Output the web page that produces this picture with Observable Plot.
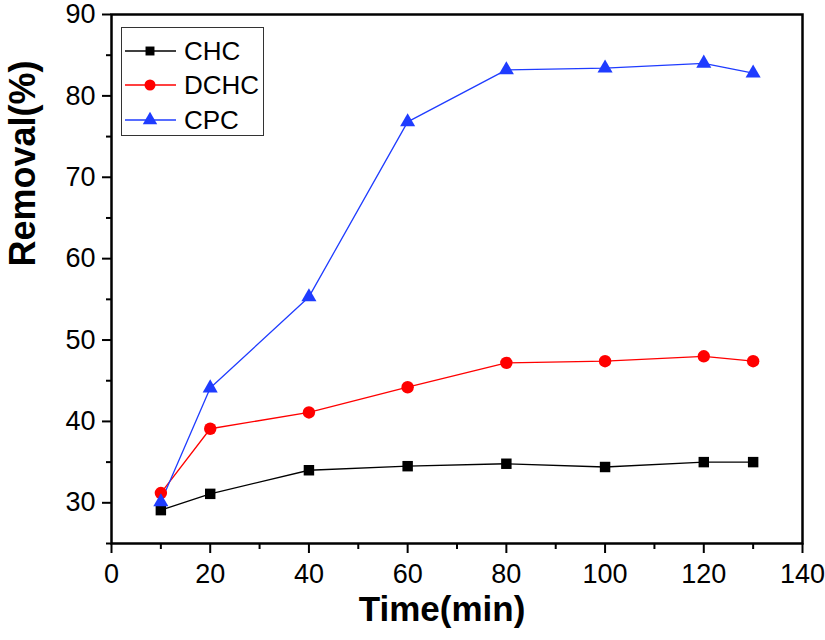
<!DOCTYPE html>
<html>
<head>
<meta charset="utf-8">
<script src="https://cdn.jsdelivr.net/npm/d3@7"></script>
<script src="https://cdn.jsdelivr.net/npm/@observablehq/plot@0.6"></script>
<style>
  html, body { margin: 0; padding: 0; background: #fff; }
  #wrap { position: relative; width: 825px; height: 640px; font-family: "Liberation Sans", Arial, sans-serif; }
  #wrap svg g[aria-label="x-axis tick label"], #wrap svg g[aria-label="y-axis tick label"] { font-size: 27px !important; }
  #legend { position: absolute; left: 121px; top: 27px; width: 141px; height: 107px; border: 1.5px solid #333; background: #fff; }
  .row { position: absolute; left: 0; height: 30px; display: flex; align-items: center; }
  .row span { font-size: 26px; color: #000; margin-left: 4px; }
</style>
</head>
<body>
<div id="wrap"></div>
<script>
// ---- data ----
const time = [10, 20, 40, 60, 80, 100, 120, 130];
const seriesNames = ["CHC", "DCHC", "CPC"];
const chc  = [29.1, 31.1, 34.0, 34.5, 34.8, 34.4, 35.0, 35.0];
const dchc = [31.2, 39.1, 41.1, 44.2, 47.2, 47.4, 48.0, 47.4];
const cpc  = [30.1, 44.1, 55.3, 76.8, 83.2, 83.4, 84.0, 82.8];
const xMajor = [0, 20, 40, 60, 80, 100, 120, 140];
const xMinor = [10, 30, 50, 70, 90, 110, 130];
const yMajor = [30, 40, 50, 60, 70, 80, 90];
const yMinor = [25, 35, 45, 55, 65, 75, 85];
const xTitle = "Time(min)";
const yTitle = "Removal(%)";

// ---- styles ----
const colors = ["#000000", "#ff0000", "#1f3cff"];
const symbols = ["square", "circle", "triangle"];
const radii = [5.9, 6.2, 5.6];

const valuesBySeries = [chc, dchc, cpc];
const rows = seriesNames.flatMap((s, i) => time.map((t, j) => ({series: s, time: t, value: valuesBySeries[i][j]})));

const font = "'Liberation Sans', Arial, sans-serif";

const marks = [
  Plot.axisX(xMinor, {tickSize: 6, tickFormat: () => "", strokeWidth: 2, label: null}),
  Plot.axisX(xMajor, {tickSize: 10, tickPadding: 10, fontSize: 27, strokeWidth: 2, label: null}),
  Plot.axisY(yMinor, {tickSize: 5, tickFormat: () => "", strokeWidth: 2, label: null}),
  Plot.axisY(yMajor, {tickSize: 9, tickPadding: 7, fontSize: 27, strokeWidth: 2, label: null}),
  Plot.line(rows, {x: "time", y: "value", z: "series", stroke: "series", strokeWidth: 1.3})
];
seriesNames.forEach((s, i) => {
  marks.push(Plot.dot(rows.filter(d => d.series === s), {
    x: "time", y: "value", symbol: () => symbols[i], fill: colors[i], stroke: "none", r: radii[i]
  }));
});
marks.push(
  Plot.frame({stroke: "#000", strokeWidth: 2.5}),
  Plot.text([xTitle], {frameAnchor: "bottom", text: d => d, dx: -15, dy: 77, fontSize: 35, fontWeight: "bold"}),
  Plot.text([yTitle], {frameAnchor: "left", text: d => d, rotate: -90, dx: -88.5, dy: -12.5, fontSize: 36, fontWeight: "bold"})
);

const chart = Plot.plot({
  width: 825,
  height: 640,
  marginLeft: 111,
  marginRight: 23,
  marginTop: 14,
  marginBottom: 97,
  style: {fontFamily: font, fontSize: "27px", color: "#000", background: "#fff", overflow: "visible"},
  x: {domain: [0, 140], label: null},
  y: {domain: [25, 90], label: null},
  color: {domain: seriesNames, range: colors},
  symbol: {domain: seriesNames, range: symbols},
  marks
});

// enforce tick label size
chart.querySelectorAll('g[aria-label="x-axis tick label"], g[aria-label="y-axis tick label"]').forEach(g => {
  g.setAttribute("font-size", "27");
  g.style.fontSize = "27px";
});

const wrap = document.getElementById("wrap");
wrap.appendChild(chart);

// ---- legend (HTML overlay) ----
const legend = document.createElement("div");
legend.id = "legend";
const rowCenters = [23, 57, 92];
seriesNames.forEach((s, i) => {
  const row = document.createElement("div");
  row.className = "row";
  row.style.top = (rowCenters[i] - 15) + "px";
  const svg = d3.create("svg").attr("width", 58).attr("height", 30);
  svg.append("line").attr("x1", 3).attr("x2", 54).attr("y1", 15).attr("y2", 15)
    .attr("stroke", colors[i]).attr("stroke-width", 1.3);
  const sizes = [80, 95, 90];
  svg.append("path").attr("transform", "translate(28,15)")
    .attr("d", d3.symbol(d3[["symbolSquare", "symbolCircle", "symbolTriangle"][i]], sizes[i])())
    .attr("fill", colors[i]);
  row.appendChild(svg.node());
  const label = document.createElement("span");
  label.textContent = s;
  row.appendChild(label);
  legend.appendChild(row);
});
wrap.appendChild(legend);
</script>
</body>
</html>
